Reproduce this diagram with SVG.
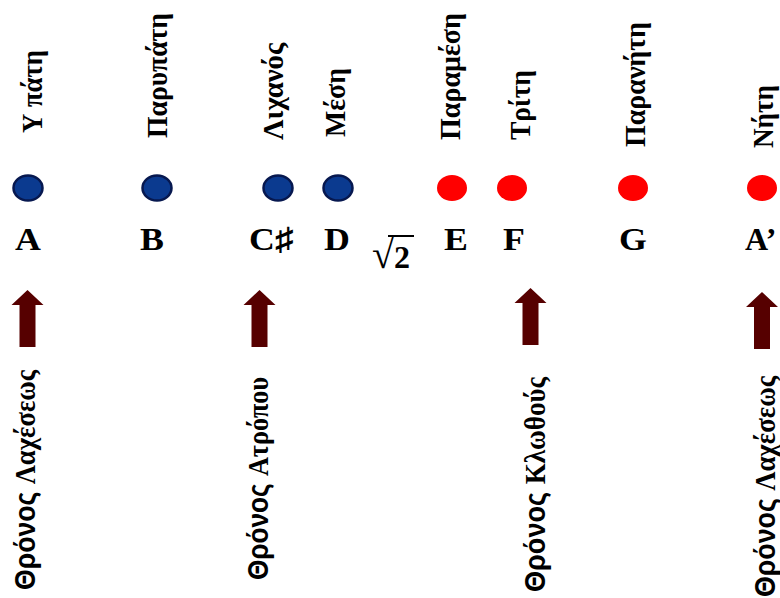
<svg xmlns="http://www.w3.org/2000/svg" width="780" height="598" viewBox="0 0 780 598">
<defs>
<style>
.top{font-family:"Liberation Serif","Times New Roman",serif;font-weight:bold;font-size:30px;fill:#000}
.let{font-family:"Liberation Serif","Times New Roman","DejaVu Serif",serif;font-weight:bold;font-size:32px;fill:#000;text-anchor:middle}
.bot{font-family:"Liberation Serif","Times New Roman",serif;font-weight:bold;font-size:30px;fill:#000}
.sans{font-family:"Liberation Sans",Arial,sans-serif}
.blue{fill:#0b3a8f;stroke:#07184f;stroke-width:2.5}
.red{fill:#ff0000}
.arr{fill:#560000}
</style>
<path id="arrow" d="M0,0 L16,15 L8,15 L8,57 L-8,57 L-8,15 L-16,15 Z"/>
</defs>
<rect width="780" height="598" fill="#ffffff"/>

<g id="note-A">
<text class="top" transform="translate(42,133) rotate(-90)" textLength="83" lengthAdjust="spacingAndGlyphs">Υ πάτη</text>
<ellipse class="blue" cx="28" cy="188" rx="14.5" ry="12.5"/>
<text class="let" x="28" y="250" transform="translate(28,0) scale(1.12,1) translate(-28,0)">A</text>
</g>
<g id="note-B">
<text class="top" transform="translate(167,138) rotate(-90)" textLength="125" lengthAdjust="spacingAndGlyphs">Παρυπάτη</text>
<ellipse class="blue" cx="157" cy="188" rx="14.5" ry="12.5"/>
<text class="let" x="152" y="250" transform="translate(152,0) scale(1.12,1) translate(-152,0)">B</text>
</g>
<g id="note-Csharp">
<text class="top" transform="translate(283,140) rotate(-90)" textLength="97" lengthAdjust="spacingAndGlyphs">Λιχανός</text>
<ellipse class="blue" cx="278" cy="188" rx="14.5" ry="12.5"/>
<text class="let" x="271" y="250" transform="translate(271,0) scale(1.12,1) translate(-271,0)">C♯</text>
</g>
<g id="note-D">
<text class="top" transform="translate(345,137) rotate(-90)" textLength="69" lengthAdjust="spacingAndGlyphs">Μέση</text>
<ellipse class="blue" cx="338" cy="188" rx="14.5" ry="12.5"/>
<text class="let" x="337" y="250" transform="translate(337,0) scale(1.12,1) translate(-337,0)">D</text>
</g>
<g id="sqrt2">
<text class="let" x="372" y="268" style="text-anchor:start"><tspan font-size="40">√</tspan><tspan font-size="32">2</tspan></text>
<line x1="388" y1="236" x2="414" y2="236" stroke="#000" stroke-width="2"/>
</g>
<g id="note-E">
<text class="top" transform="translate(460,140) rotate(-90)" textLength="127" lengthAdjust="spacingAndGlyphs">Παραμέση</text>
<ellipse class="red" cx="452" cy="188" rx="15" ry="13"/>
<text class="let" x="456" y="250" transform="translate(456,0) scale(1.12,1) translate(-456,0)">E</text>
</g>
<g id="note-F">
<text class="top" transform="translate(530,140) rotate(-90)" textLength="70" lengthAdjust="spacingAndGlyphs">Τρίτη</text>
<ellipse class="red" cx="512" cy="188" rx="15" ry="13"/>
<text class="let" x="514" y="250" transform="translate(514,0) scale(1.12,1) translate(-514,0)">F</text>
</g>
<g id="note-G">
<text class="top" transform="translate(645,147) rotate(-90)" textLength="125" lengthAdjust="spacingAndGlyphs">Παρανήτη</text>
<ellipse class="red" cx="633" cy="188" rx="15" ry="13"/>
<text class="let" x="633" y="250" transform="translate(633,0) scale(1.12,1) translate(-633,0)">G</text>
</g>
<g id="note-A2">
<text class="top" transform="translate(773,148) rotate(-90)" textLength="63" lengthAdjust="spacingAndGlyphs">Νήτη</text>
<ellipse class="red" cx="762" cy="188" rx="15" ry="13"/>
<text class="let" x="745" y="250" style="text-anchor:start">A’</text>
</g>

<g id="connectors" class="arr">
<use href="#arrow" transform="translate(27.5,290)"/>
<use href="#arrow" transform="translate(259.5,290)"/>
<use href="#arrow" transform="translate(530.5,288)"/>
<use href="#arrow" transform="translate(762,292)"/>
</g>

<g id="throne-lachesis">
<text class="bot" transform="translate(35,590) rotate(-90)" textLength="220" lengthAdjust="spacingAndGlyphs"><tspan class="sans">Θρόνος </tspan>Λαχέσεως</text>
</g>
<g id="throne-atropos">
<text class="bot" transform="translate(268,580) rotate(-90)" textLength="203" lengthAdjust="spacingAndGlyphs"><tspan class="sans">Θρόνος </tspan>Ατρόπου</text>
</g>
<g id="throne-clotho">
<text class="bot" transform="translate(545,592) rotate(-90)" textLength="215" lengthAdjust="spacingAndGlyphs"><tspan class="sans">Θρόνος </tspan>Κλωθούς</text>
</g>
<g id="throne-lachesis-2">
<text class="bot" transform="translate(775,597) rotate(-90)" textLength="221" lengthAdjust="spacingAndGlyphs"><tspan class="sans">Θρόνος </tspan>Λαχέσεως</text>
</g>
</svg>
